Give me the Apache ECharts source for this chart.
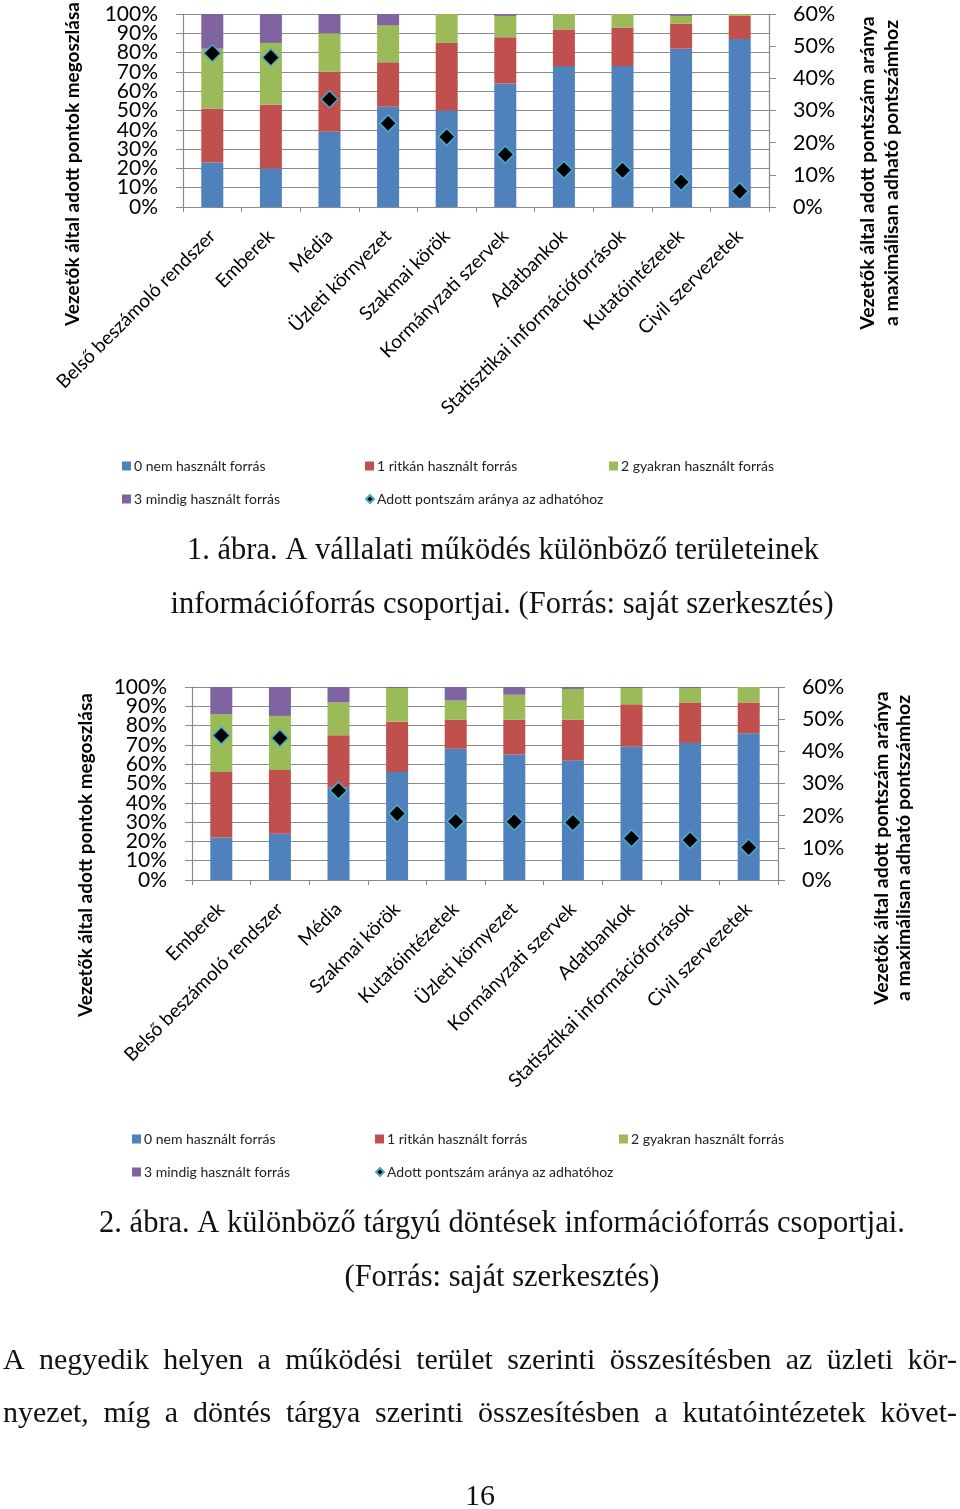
<!DOCTYPE html>
<html><head><meta charset="utf-8">
<script src="https://cdn.jsdelivr.net/npm/echarts@6.0.0/dist/echarts.min.js"></script>
<style>html,body{margin:0;padding:0;background:#fff}#c{width:960px;height:1509px}</style>
</head><body><div id="c"></div>
<script>
// ---- Data: chart 1 (by functional area) ----
const categories1 = ['Belső beszámoló rendszer','Emberek','Média','Üzleti környezet','Szakmai körök','Kormányzati szervek','Adatbankok','Statisztikai információforrások','Kutatóintézetek','Civil szervezetek'];
const nem1     = [23, 20, 39, 52, 50, 64, 73, 73, 82, 87];
const ritkan1  = [28, 33, 31, 23, 35, 24, 19, 20, 13, 12];
const gyakran1 = [31, 32, 20, 19, 15, 11,  8,  7,  4,  1];
const mindig1  = [18, 15, 10,  6,  0,  1,  0,  0,  1,  0];
const arany1   = [47.8, 46.5, 33.5, 26.0, 21.8, 16.3, 11.6, 11.4, 7.8, 4.9];

// ---- Data: chart 2 (by decision subject) ----
const categories2 = ['Emberek','Belső beszámoló rendszer','Média','Szakmai körök','Kutatóintézetek','Üzleti környezet','Kormányzati szervek','Adatbankok','Statisztikai információforrások','Civil szervezetek'];
const nem2     = [22, 24, 48, 56, 68, 65, 62, 69, 71, 76];
const ritkan2  = [34, 33, 27, 26, 15, 18, 21, 22, 21, 16];
const gyakran2 = [30, 28, 17, 17.5, 10, 13, 16, 8.5, 7.5, 8];
const mindig2  = [14, 15,  8, 0.5,  7,  4,  1, 0.5, 0.5, 0];
const arany2   = [44.9, 44.1, 27.8, 20.7, 18.2, 18.1, 17.9, 13.0, 12.4, 10.1];

// ---- Tick labels / texts ----
const leftTicks = [0,10,20,30,40,50,60,70,80,90,100];
const rightTicks = [0,10,20,30,40,50,60];
const seriesNames = ['0 nem használt forrás','1 ritkán használt forrás','2 gyakran használt forrás','3 mindig használt forrás','Adott pontszám aránya az adhatóhoz'];
const leftTitle = 'Vezetők által adott pontok megoszlása';
const rightTitle1 = 'Vezetők által adott pontszám aránya';
const rightTitle2 = 'a maximálisan adható pontszámhoz';
const caption1 = ['1. ábra. A vállalati működés különböző területeinek','információforrás csoportjai. (Forrás: saját szerkesztés)'];
const caption2 = ['2. ábra. A különböző tárgyú döntések információforrás csoportjai.','(Forrás: saját szerkesztés)'];
const bodyLines = ['A negyedik helyen a működési terület szerinti összesítésben az üzleti kör-','nyezet, míg a döntés tárgya szerinti összesítésben a kutatóintézetek követ-'];
const pageNo = '16';

const colors = ['#4F81BD','#C0504D','#9BBB59','#8064A2'];
const axisGray = '#8a8a8a';
const sansFont = 'Lato';
const serifFont = '"Liberation Serif", "Times New Roman", serif';

const chart = echarts.init(document.getElementById('c'));

function grid(left, top) { return {left: left, top: top, width: 586, height: 193}; }
function xAxis(gi, cats) {
  return {type:'category', gridIndex: gi, data: cats,
    axisLine:{lineStyle:{color:axisGray, width:1.2}},
    axisTick:{show:true, length:5, lineStyle:{color:axisGray}},
    axisLabel:{rotate:45, margin:26, fontFamily:sansFont, fontSize:19, color:'#000', interval:0}};
}
// left axis split into two label sets (even / odd tick labels) so the
// densely packed percentage labels are all shown like in the reference
function leftLabelText(v, wantEven) {
  return (leftTicks.indexOf(v) % 2 === 0) === wantEven ? v + '%' : '';
}
function yLeft(gi) {
  return {type:'value', gridIndex: gi, min:0, max:100, interval:10,
    axisLine:{show:true, lineStyle:{color:axisGray, width:1.2}},
    axisTick:{show:true, length:7, lineStyle:{color:axisGray}},
    splitLine:{show:true, lineStyle:{color:axisGray, width:1.2}},
    axisLabel:{formatter:function(v){return leftLabelText(v, true);}, margin:25, fontFamily:sansFont, fontSize:21, color:'#000',
      showMinLabel:true, showMaxLabel:true}};
}
function yLeftOdd(gi) {
  return {type:'value', gridIndex: gi, min:0, max:100, interval:10, position:'left',
    axisLine:{show:false}, axisTick:{show:false}, splitLine:{show:false},
    axisLabel:{formatter:function(v){return leftLabelText(v, false);}, margin:25, fontFamily:sansFont, fontSize:21, color:'#000'}};
}
function yRight(gi) {
  return {type:'value', gridIndex: gi, position:'right', min:0, max:60, interval:10,
    axisLine:{show:true, lineStyle:{color:axisGray, width:1.2}},
    axisTick:{show:true, length:7, lineStyle:{color:axisGray}},
    splitLine:{show:false},
    axisLabel:{formatter:'{value}%', margin:24, fontFamily:sansFont, fontSize:21.5, color:'#000',
      showMinLabel:true, showMaxLabel:true}};
}
function barSeries(gi, name, data, color, stack) {
  return {type:'bar', name:name, xAxisIndex:gi, yAxisIndex:gi*3, stack:stack, data:data,
    barWidth:22, itemStyle:{color:color}};
}
function scatterSeries(gi, data) {
  return {type:'scatter', name:seriesNames[4], xAxisIndex:gi, yAxisIndex:gi*3+1, data:data,
    symbol:'diamond', symbolSize:17, z:5,
    itemStyle:{color:'#000', borderColor:'#4BACC6', borderWidth:1.5, opacity:1}};
}
function legendItem(name, left, top, isDiamond) {
  return {left:left, top:top, padding:0, itemWidth: isDiamond ? 8 : 9, itemHeight: isDiamond ? 8 : 9,
    data:[{name:name, icon: isDiamond ? 'diamond' : 'rect'}],
    textStyle:{fontFamily:sansFont, fontSize:14, color:'#222', padding:[0,0,0,-2]}, selectedMode:false};
}
function legendsFor(x0, y0) {
  return [
    legendItem(seriesNames[0], x0, y0, false),
    legendItem(seriesNames[1], x0+243, y0, false),
    legendItem(seriesNames[2], x0+487, y0, false),
    legendItem(seriesNames[3], x0, y0+33, false),
    legendItem(seriesNames[4], x0+243, y0+33, true)
  ];
}

// --- text graphics ---
const graphics = [];
function vtext(txt, x, y, size) {
  graphics.push({type:'text', x:x, y:y, rotation:Math.PI/2,
    style:{text:txt, font:'bold '+size+'px '+sansFont, fill:'#000', align:'center', verticalAlign:'middle'}});
}
function ctext(txt, x, y, size) {
  graphics.push({type:'text', x:x, y:y,
    style:{text:txt, font:size+'px '+serifFont, fill:'#111', align:'center', verticalAlign:'middle'}});
}
vtext(leftTitle, 73, 164, 19);
vtext(rightTitle1, 868, 173, 19.5);
vtext(rightTitle2, 892, 173, 19.5);
vtext(leftTitle, 86, 855, 19);
vtext(rightTitle1, 882, 848, 19.5);
vtext(rightTitle2, 904, 848, 19.5);
ctext(caption1[0], 503, 551, 30.5);
ctext(caption1[1], 502, 605, 30.5);
ctext(caption2[0], 502, 1224, 30.5);
ctext(caption2[1], 502, 1278, 30.5);
ctext(pageNo, 480, 1497, 30);

// justified body text
const measure = document.createElement('canvas').getContext('2d');
const bodyFont = '30px ' + serifFont;
measure.font = bodyFont;
const bodyLeft = 3, bodyRight = 957;
[[bodyLines[0], 1361],[bodyLines[1], 1414]].forEach(function(pair){
  const words = pair[0].split(' ');
  const widths = words.map(function(w){ return measure.measureText(w).width; });
  const total = widths.reduce(function(a,b){return a+b;}, 0);
  const gap = (bodyRight - bodyLeft - total) / (words.length - 1);
  let x = bodyLeft;
  words.forEach(function(w, i){
    graphics.push({type:'text', x:x, y:pair[1],
      style:{text:w, font:bodyFont, fill:'#111', align:'left', verticalAlign:'middle'}});
    x += widths[i] + gap;
  });
});

const option = {
  animation:false,
  backgroundColor:'#fff',
  grid:[grid(183, 14), grid(192, 687)],
  xAxis:[xAxis(0, categories1), xAxis(1, categories2)],
  yAxis:[yLeft(0), yRight(0), yLeftOdd(0), yLeft(1), yRight(1), yLeftOdd(1)],
  legend: legendsFor(122, 459).concat(legendsFor(132, 1132)),
  series:[
    barSeries(0, seriesNames[0], nem1, colors[0], 's1'),
    barSeries(0, seriesNames[1], ritkan1, colors[1], 's1'),
    barSeries(0, seriesNames[2], gyakran1, colors[2], 's1'),
    barSeries(0, seriesNames[3], mindig1, colors[3], 's1'),
    scatterSeries(0, arany1),
    barSeries(1, seriesNames[0], nem2, colors[0], 's2'),
    barSeries(1, seriesNames[1], ritkan2, colors[1], 's2'),
    barSeries(1, seriesNames[2], gyakran2, colors[2], 's2'),
    barSeries(1, seriesNames[3], mindig2, colors[3], 's2'),
    scatterSeries(1, arany2)
  ],
  graphic: graphics
};
chart.setOption(option);
</script></body></html>
